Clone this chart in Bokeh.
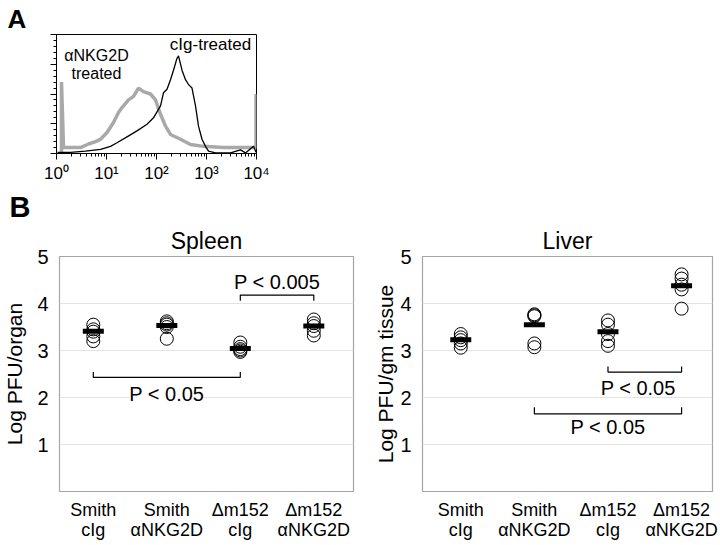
from bokeh.plotting import figure
from bokeh.layouts import column, row
from bokeh.models import FixedTicker, Range1d, Label, Title
from bokeh.embed import file_html
from bokeh.resources import INLINE

FONT = "Liberation Sans"

# ---------------- Panel A: flow histogram ----------------
hist_major = [1, 10, 100, 1000, 10000]
hist_tick_labels = ["10\u2070", "10\u00b9", "10\u00b2", "10\u00b3", "10\u2074"]
# log10 fluorescence intensity, height as % of axis maximum
cig_log10 = [0.02, 0.28, 0.58, 0.88, 1.08, 1.21, 1.41, 1.61, 1.81, 1.94, 2.08, 2.14, 2.21,
             2.28, 2.34, 2.41, 2.44, 2.51, 2.58, 2.64, 2.71, 2.78, 2.84, 2.91, 2.98, 3.04,
             3.18, 3.48, 3.68, 3.78, 3.88, 3.94, 3.99]
cig_pct = [1, 1, 2, 3.4, 6, 9, 14, 19, 24.6, 30, 40, 51, 54, 62, 70, 80, 82, 70, 62, 58, 55,
           40, 23, 12, 6, 2, 0.5, 0.5, 3, 0.5, 4, 6, 1]
nkg_log10 = [0.1, 0.1, 0.14, 0.28, 0.48, 0.64, 0.78, 0.88, 1.01, 1.14, 1.24, 1.31, 1.44, 1.54,
             1.64, 1.74, 1.88, 1.98, 2.08, 2.18, 2.28, 2.48, 2.68, 2.94, 3.34, 3.88, 3.99, 3.99]
nkg_pct = [0, 60, 5, 5, 5, 8, 10, 12, 17.6, 26, 34.5, 38.6, 45, 48, 55, 52, 50, 45, 33, 23, 16,
           12, 7.5, 6, 5, 5, 5, 50]

pa = figure(width=290, height=186, output_backend="svg", toolbar_location=None,
            x_axis_type="log", x_range=Range1d(1, 10000), y_range=Range1d(0, 100),
            min_border_left=56, min_border_right=34, min_border_top=34, min_border_bottom=33)
pa.line([10 ** v for v in nkg_log10], nkg_pct, line_color="#a9a9a9", line_width=3.5)
pa.line([10 ** v for v in cig_log10], cig_pct, line_color="black", line_width=1.3)
pa.xaxis.ticker = FixedTicker(ticks=hist_major,
                              minor_ticks=[k * 10 ** d for d in range(4) for k in range(2, 10)])
pa.xaxis.major_label_overrides = {t: s for t, s in zip(hist_major, hist_tick_labels)}
pa.yaxis.ticker = FixedTicker(ticks=[0, 25, 50, 75, 100], minor_ticks=list(range(0, 101, 5)))
pa.yaxis.major_label_text_color = None
for ax in (pa.xaxis[0], pa.yaxis[0]):
    ax.axis_line_color = "black"
    ax.major_tick_out = 6
    ax.major_tick_in = 0
    ax.minor_tick_out = 3
    ax.minor_tick_in = 0
    ax.major_tick_line_color = "black"
    ax.minor_tick_line_color = "black"
pa.xaxis.major_label_text_font = FONT
pa.xaxis.major_label_text_font_size = "17px"
pa.xaxis.major_label_text_color = "black"
pa.xaxis.major_label_standoff = 4
pa.grid.visible = False
pa.outline_line_color = "black"
pa.outline_line_width = 1
for lx, ly, txt, fs in [(10 ** 0.8, 82, "\u03b1NKG2D", "16px"),
                        (10 ** 0.8, 67, "treated", "16px"),
                        (10 ** 3.08, 92, "cIg-treated", "17px")]:
    pa.add_layout(Label(x=lx, y=ly, text=txt, text_align="center", text_baseline="middle",
                        text_font=FONT, text_font_size=fs, text_color="black"))
pa.add_layout(Title(text="A", align="left", offset=-49, standoff=2, text_font=FONT,
                    text_font_size="26px", text_font_style="bold", text_color="black"),
              "above")

# ---------------- Panel B: virus titres ----------------
group_labels = ["Smith\ncIg", "Smith\n\u03b1NKG2D", "\u0394m152\ncIg", "\u0394m152\n\u03b1NKG2D"]
group_pos = [0.5, 1.5, 2.5, 3.5]
y_ticks = [1, 2, 3, 4, 5]

spleen_values = [[3.55, 3.45, 3.40, 3.30, 3.20],
                 [3.62, 3.58, 3.55, 3.50, 3.25],
                 [3.17, 3.08, 3.03, 3.00, 2.97],
                 [3.66, 3.58, 3.52, 3.42, 3.32]]
spleen_means = [3.41, 3.53, 3.04, 3.52]
# (from group, to group, bracket y, tick length, text, text y, text x shift)
spleen_brackets = [(0, 2, 2.43, 0.11, "P < 0.05", 2.08, 0.0),
                   (2, 3, 4.18, -0.12, "P < 0.005", 4.45, 0.0)]

liver_values = [[3.35, 3.28, 3.22, 3.15, 3.06],
                [3.77, 3.75, 3.73, 3.15, 3.07],
                [3.64, 3.55, 3.35, 3.20, 3.10],
                [4.62, 4.53, 4.40, 4.30, 3.89]]
liver_means = [3.23, 3.55, 3.40, 4.38]
liver_brackets = [(2, 3, 2.54, 0.12, "P < 0.05", 2.20, -0.09),
                  (1, 3, 1.65, 0.14, "P < 0.05", 1.37, 0.0)]


def panel(title, ylabel, values, means, brackets, width, bl, br, xr, ylab_standoff,
          blank_text):
    p = figure(width=width, height=359, output_backend="svg", toolbar_location=None,
               x_range=Range1d(*xr), y_range=Range1d(0, 5),
               min_border_left=bl, min_border_right=br, min_border_top=70,
               min_border_bottom=54)
    p.outline_line_color = "#a6a6a6"
    p.outline_line_width = 1.2
    p.xgrid.visible = False
    p.ygrid.grid_line_color = "#e3e3e3"
    p.ygrid.grid_line_width = 1.2
    p.yaxis.ticker = FixedTicker(ticks=y_ticks)
    p.xaxis.ticker = FixedTicker(ticks=group_pos)
    p.xaxis.major_label_overrides = {g: s for g, s in zip(group_pos, group_labels)}
    for ax in (p.xaxis[0], p.yaxis[0]):
        ax.axis_line_color = None
        ax.major_tick_line_color = None
        ax.minor_tick_line_color = None
        ax.major_label_text_font = FONT
        ax.major_label_text_color = "black"
    p.xaxis.major_label_text_font_size = "18px"
    p.xaxis.major_label_text_line_height = 1.0
    p.xaxis.major_label_standoff = 2
    p.yaxis.major_label_text_font_size = "20px"
    p.yaxis.major_label_standoff = 5
    p.yaxis.axis_label = ylabel
    p.yaxis.axis_label_text_font = FONT
    p.yaxis.axis_label_text_font_size = "21px"
    p.yaxis.axis_label_text_font_style = "normal"
    p.yaxis.axis_label_text_color = "black"
    p.yaxis.axis_label_standoff = ylab_standoff

    xs, ys = [], []
    for g, vals in zip(group_pos, values):
        xs += [g] * len(vals)
        ys += vals
    p.scatter(xs, ys, marker="circle", size=13, fill_color=None, line_color="black",
              line_width=1)
    p.rect(group_pos, means, width=21, height=5, width_units="screen", height_units="screen",
           fill_color="black", line_color=None)

    bx, by = [], []
    for (a, b, y, t, txt, ty, dx) in brackets:
        x0, x1 = group_pos[a], group_pos[b]
        bx.append([x0, x0, x1, x1])
        by.append([y + t, y, y, y + t])
        lab = Label(x=(x0 + x1) / 2 + dx, y=ty, text=txt, text_align="center",
                    text_baseline="middle", text_font=FONT, text_font_size="20px",
                    text_color="black")
        if blank_text:
            lab.background_fill_color = "white"
        p.add_layout(lab)
    p.multi_line(bx, by, line_color="black", line_width=1.2)

    p.add_layout(Title(text=title, align="center", standoff=6, text_font=FONT,
                       text_font_size="23px", text_font_style="normal", text_color="black"),
                 "above")
    return p


ps = panel("Spleen", "Log PFU/organ", spleen_values, spleen_means, spleen_brackets,
           370, 58, 17, (0.04, 4.04), 8, True)
ps.add_layout(Title(text="B", align="left", offset=-50, standoff=0, text_font=FONT,
                    text_font_size="29px", text_font_style="bold", text_color="black"),
              "above")
pl = panel("Liver", "Log PFU/gm tissue", liver_values, liver_means, liver_brackets,
           350, 52, 8, (-0.02, 3.92), 0, False)

layout = column(pa, row(ps, pl))
open("out.html", "w").write(file_html(layout, INLINE))
